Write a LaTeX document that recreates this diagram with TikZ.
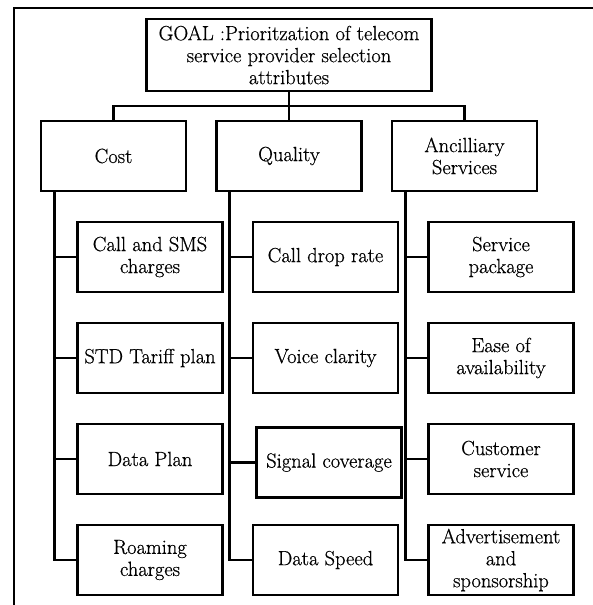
\documentclass[tikz,border=0pt]{standalone}
\usepackage{fontspec}
\setmainfont{Latin Modern Roman}[FakeBold=0.6]
\usepackage{tikz}
\usetikzlibrary{calc}
\newcommand{\boxfont}{\fontsize{20.5}{22}\selectfont}

\begin{document}
\begin{tikzpicture}[x=1pt,y=-1pt,node distance=101pt,
    cell/.style={draw,line width=2.6pt,minimum width=145pt,minimum height=70pt,
      align=center,font=\boxfont,inner sep=1pt},
    wire/.style={line width=2.6pt}]
    \useasboundingbox (0,0) rectangle (593,605);
    \draw[line width=2pt] (593,8) -- (14,8) -- (14,605);

    \node[cell,minimum width=285pt,minimum height=72pt] (0) at (289,55)
      {GOAL :Prioritzation of telecom\\service provider selection\\attributes};
    \node[cell,below of=0] (2) {Quality};
    \node[cell,left of=2,xshift=-74.5pt] (1) {Cost};
    \node[cell,right of=2,xshift=74.5pt] (3) {Ancilliary\\Services};

    \node[cell,below of=1,xshift=36.5pt] (11) {Call and SMS\\charges};
    \node[cell,below of=11] (12) {STD Tariff plan};
    \node[cell,below of=12] (13) {Data Plan};
    \node[cell,below of=13] (14) {Roaming\\charges};

    \node[cell,below of=2,xshift=36.5pt] (21) {Call drop rate};
    \node[cell,below of=21] (22) {Voice clarity};
    \node[cell,below of=22,xshift=3.5pt,yshift=-3.5pt] (23) {Signal coverage};
    \node[cell,below of=23,xshift=-3.5pt,yshift=3.5pt] (24) {Data Speed};

    \node[cell,below of=3,xshift=36.5pt] (31) {Service\\package};
    \node[cell,below of=31] (32) {Ease of\\availability};
    \node[cell,below of=32] (33) {Customer\\service};
    \node[cell,below of=33] (34) {Advertisement\\and\\sponsorship};

    \coordinate (b) at ($(0.south)!0.5!(2.north)$);
    \draw[wire] (0) -- (2);
    \draw[wire] (1.north) |- (b) -| (3.north);
    \foreach \p in {1,2,3}
      \foreach \c in {1,...,4}
        \draw[wire] ([xshift=14.5pt]\p.south west) |- (\p\c.west);
\end{tikzpicture}
\end{document}
